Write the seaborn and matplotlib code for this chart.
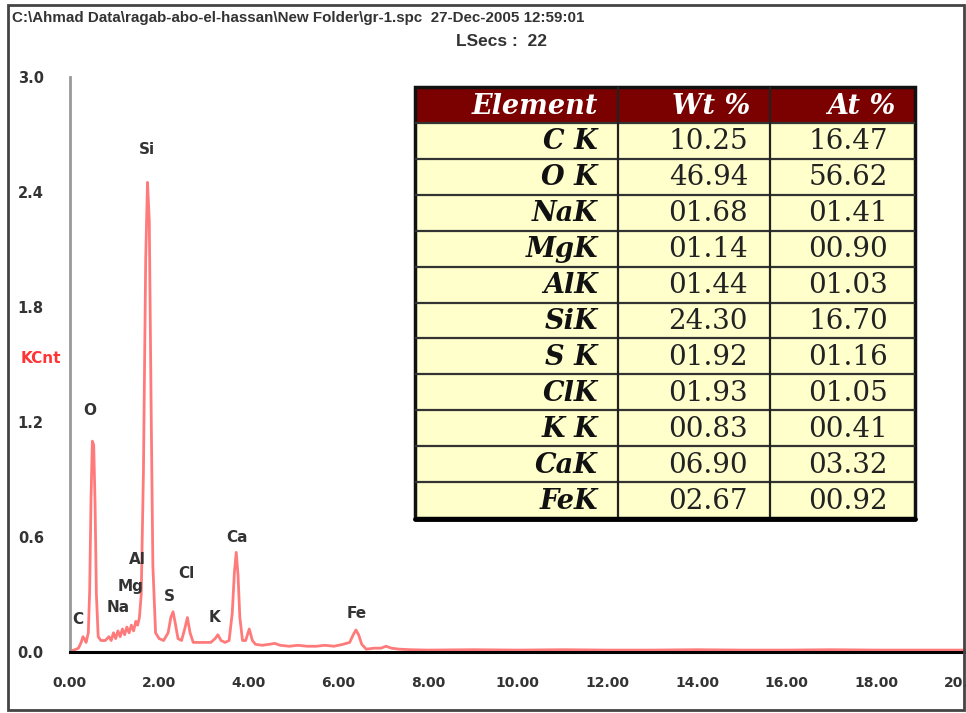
import numpy as np
import pandas as pd
import matplotlib
matplotlib.use("Agg")
import matplotlib.pyplot as plt
from matplotlib.patches import Rectangle
import seaborn as sns

sns.set_style("white")
plt.rcParams["font.family"] = ["DejaVu Sans"]

# spectrum (keV, KCnt)
energy = [0.00, 0.10, 0.20, 0.26, 0.30, 0.33, 0.37, 0.42, 0.45, 0.48, 0.51, 0.54, 0.57,
          0.60, 0.64, 0.70, 0.80, 0.88, 0.93, 0.98, 1.03, 1.08, 1.13, 1.18, 1.23, 1.28,
          1.33, 1.38, 1.43, 1.48, 1.52, 1.56, 1.60, 1.65, 1.70, 1.74, 1.78, 1.82, 1.86,
          1.92, 2.00, 2.10, 2.20, 2.26, 2.31, 2.36, 2.42, 2.50, 2.57, 2.63, 2.69, 2.76,
          2.85, 3.00, 3.15, 3.25, 3.31, 3.38, 3.47, 3.56, 3.63, 3.68, 3.72, 3.76, 3.80,
          3.86, 3.93, 4.01, 4.08, 4.15, 4.30, 4.45, 4.58, 4.70, 4.90, 5.10, 5.30, 5.50,
          5.70, 5.90, 6.10, 6.25, 6.33, 6.39, 6.45, 6.52, 6.62, 6.80, 6.95, 7.06, 7.18,
          7.35, 7.60, 8.00, 9.00, 10.0, 11.0, 12.0, 13.0, 14.0, 15.0, 16.0, 17.0, 18.0,
          19.0, 20.0]
kcnt = [0.005, 0.01, 0.02, 0.05, 0.08, 0.07, 0.05, 0.10, 0.32, 0.80, 1.10, 1.08, 0.78,
        0.30, 0.08, 0.06, 0.06, 0.08, 0.06, 0.10, 0.07, 0.11, 0.08, 0.12, 0.09, 0.13,
        0.10, 0.14, 0.11, 0.16, 0.14, 0.18, 0.30, 0.95, 2.05, 2.45, 2.25, 1.30, 0.45,
        0.10, 0.07, 0.06, 0.10, 0.18, 0.21, 0.15, 0.07, 0.06, 0.12, 0.18, 0.10, 0.05,
        0.05, 0.05, 0.05, 0.07, 0.09, 0.06, 0.05, 0.06, 0.20, 0.42, 0.52, 0.40, 0.18,
        0.06, 0.06, 0.12, 0.06, 0.04, 0.035, 0.04, 0.045, 0.035, 0.03, 0.035, 0.03, 0.03,
        0.035, 0.03, 0.04, 0.05, 0.09, 0.115, 0.09, 0.04, 0.015, 0.02, 0.02, 0.03, 0.02,
        0.015, 0.012, 0.01, 0.012, 0.01, 0.012, 0.01, 0.01, 0.012, 0.01, 0.01, 0.012, 0.01,
        0.01, 0.01]

peak_names = ["C", "O", "Na", "Mg", "Al", "Si", "S", "Cl", "K", "Ca", "Fe"]
peak_x = [0.18, 0.45, 1.09, 1.36, 1.52, 1.72, 2.23, 2.61, 3.24, 3.73, 6.41]
peak_y = [0.17, 1.26, 0.23, 0.34, 0.48, 2.62, 0.29, 0.41, 0.18, 0.60, 0.20]

x_ticks = [0, 2, 4, 6, 8, 10, 12, 14, 16, 18, 20]
y_ticks = [0.0, 0.6, 1.2, 1.8, 2.4, 3.0]

# quant table
elements = ["C K", "O K", "NaK", "MgK", "AlK", "SiK", "S K", "ClK", "K K", "CaK", "FeK"]
wt_pct = ["10.25", "46.94", "01.68", "01.14", "01.44", "24.30", "01.92", "01.93", "00.83", "06.90", "02.67"]
at_pct = ["16.47", "56.62", "01.41", "00.90", "01.03", "16.70", "01.16", "01.05", "00.41", "03.32", "00.92"]

df = pd.DataFrame({"Energy": energy, "KCnt": kcnt})

fig = plt.figure(figsize=(9.66, 7.13), dpi=100)
ax = fig.add_axes([69.5 / 966, 61 / 713, 896.5 / 966, 575 / 713])

sns.lineplot(data=df, x="Energy", y="KCnt", ax=ax, color="#ff7b7b", lw=2.0,
             sort=False, estimator=None)

for name, px, py in zip(peak_names, peak_x, peak_y):
    ax.text(px, py, name, ha="center", va="center", fontsize=11,
            fontweight="bold", color="#333333")

ax.set_xlim(0, 20)
ax.set_ylim(0, 3.0)
ax.set_xticks(x_ticks)
ax.set_xticklabels([f"{v:.2f}" for v in x_ticks])
ax.set_yticks(y_ticks)
ax.set_yticklabels([f"{v:.1f}" for v in y_ticks])
ax.set_xlabel("")
ax.set_ylabel("KCnt", rotation=0, color="#ff3535", fontsize=11, fontweight="bold",
              ha="center", va="center")
ax.yaxis.set_label_coords(-0.032, 0.511)

for s in ["top", "right"]:
    ax.spines[s].set_visible(False)
ax.spines["left"].set_color("#999999")
ax.spines["left"].set_linewidth(2)
ax.spines["bottom"].set_color("black")
ax.spines["bottom"].set_linewidth(2.2)

ax.tick_params(axis="y", length=9.5, width=1.5, color="#888888", pad=9,
               labelsize=10.5, labelcolor="#333333")
ax.tick_params(axis="x", length=7.5, width=1.5, color="#888888", pad=10,
               labelsize=10, labelcolor="#333333")
for lab in ax.get_xticklabels() + ax.get_yticklabels():
    lab.set_fontweight("bold")

# header texts
fig.text(12 / 966, 1 - 18 / 713,
         "C:\\Ahmad Data\\ragab-abo-el-hassan\\New Folder\\gr-1.spc  27-Dec-2005 12:59:01",
         ha="left", va="center", fontsize=10.9, fontweight="bold", color="#333333",
         family=["Liberation Sans", "DejaVu Sans"])
fig.text(501 / 966, 1 - 42 / 713, "LSecs :  22", ha="center", va="center",
         fontsize=12.5, fontweight="bold", color="#333333",
         family=["Liberation Sans", "DejaVu Sans"])

# outer frame
fig.add_artist(Rectangle((8 / 966, 3 / 713), 956 / 966, 705 / 713, transform=fig.transFigure,
                         fill=False, edgecolor="#444444", lw=2))

# the table
tax = fig.add_axes([415 / 966, (713 - 518) / 713, 500 / 966, 431 / 713])
tax.set_xlim(0, 500)
tax.set_ylim(431, 0)
tax.axis("off")

col_edges = [0, 203, 355, 500]
head_h = 36
row_h = (431 - head_h) / len(elements)
serif = ["DejaVu Serif"]

tax.add_patch(Rectangle((0, 0), 500, head_h, facecolor="#7b0000", edgecolor="none"))
tax.add_patch(Rectangle((0, head_h), 500, 431 - head_h, facecolor="#ffffcc", edgecolor="none"))

headers = ["Element", "Wt %", "At %"]
for i, h in enumerate(headers):
    tax.text(col_edges[i + 1] - 20, head_h / 2 + 1, h, ha="right", va="center",
             fontsize=19.5, fontweight="bold", fontstyle="italic", color="white", family=serif)

for r in range(len(elements)):
    yc = head_h + row_h * (r + 0.5) + 1
    tax.text(col_edges[1] - 20, yc, elements[r], ha="right", va="center", fontsize=19.5,
             fontweight="bold", fontstyle="italic", color="#111111", family=serif)
    tax.text(col_edges[2] - 22, yc, wt_pct[r], ha="right", va="center", fontsize=20,
             color="#222222", family=serif)
    tax.text(col_edges[3] - 27, yc, at_pct[r], ha="right", va="center", fontsize=20,
             color="#222222", family=serif)

for r in range(len(elements)):
    tax.axhline(head_h + row_h * r, color="#333333", lw=1.6)
for cx in col_edges[1:-1]:
    tax.axvline(cx, color="#222222", lw=1.6)
tax.add_patch(Rectangle((0, 0), 500, 431, fill=False, edgecolor="#111111", lw=2.5, clip_on=False))
tax.plot([0, 500], [432, 432], color="black", lw=3.5, clip_on=False)

fig.savefig("out.png", dpi=100)
